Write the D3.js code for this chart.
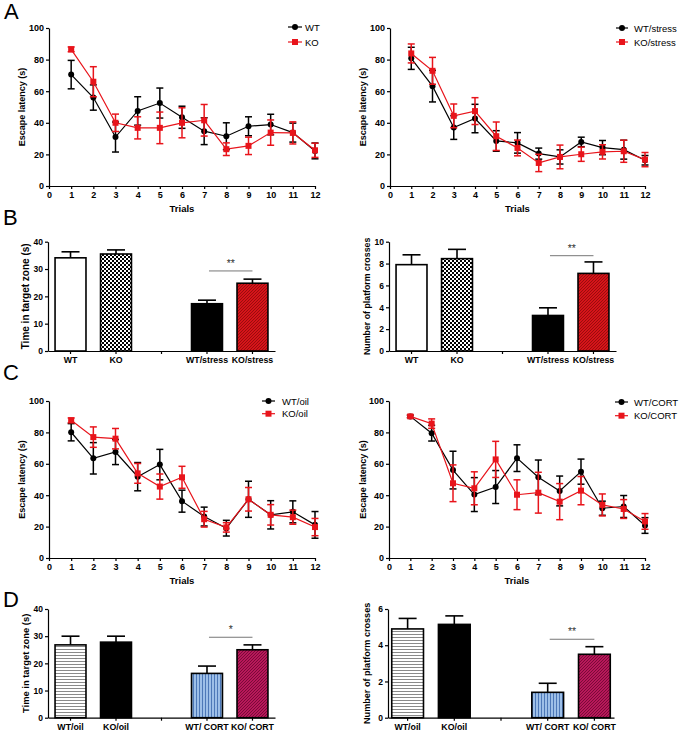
<!DOCTYPE html>
<html><head><meta charset="utf-8">
<script src="https://cdn.jsdelivr.net/npm/d3@7/dist/d3.min.js"></script>
<style>
body{margin:0;background:#fff;}
svg{display:block;font-family:"Liberation Sans",Arial,sans-serif;}
</style></head>
<body><svg id="c" width="682" height="735"></svg>
<script>
// ---------- DATA ----------
const trials = [1,2,3,4,5,6,7,8,9,10,11,12];
const trialTicks = [0,1,2,3,4,5,6,7,8,9,10,11,12];
const latencyTicks = [0,20,40,60,80,100];

// Panel A left
const wtMean = [70.5,56,31,47.5,52.5,43.5,34.7,31.5,37.8,38.9,33.8,22.2];
const wtErr  = [9,8,9.5,9,9.5,7,8.5,8.5,6,6.5,6,5];
const koMean = [86.5,66,40,36.8,36.8,40,41.6,23.3,25.4,33.8,33.6,22.6];
const koErr  = [1.5,9.5,5.5,7,10,9.5,10,4,5.5,8,7,4.5];
// Panel A right
const wtStressMean = [80.8,63.2,37,42.7,28.5,27.3,20.5,18.4,27.9,24.3,23,16.3];
const wtStressErr  = [7,10,7.5,9,6.5,6.5,3.5,4.5,3,4.5,6,3];
const koStressMean = [83.9,72.9,44.4,47.4,31.5,24.1,14.6,18.4,20.1,21.6,22,16.7];
const koStressErr  = [6,8.5,7.5,8.5,9,5,5.5,7.5,4.5,4.5,7,4.5];
// Panel C left
const wtOilMean = [80.1,63.5,67.5,51.8,59.5,36.2,26.4,19,37.4,27.5,29.4,21.1];
const wtOilErr  = [5.5,10,8,9,9.7,7,6,5,11.5,9,7,8.5];
const koOilMean = [87.7,77,76,53.9,45.5,51.4,24.7,19.5,37.4,27.5,26,19.7];
const koOilErr  = [1.5,6.5,6.5,6.3,8,7,5,3,7.5,6.5,4.5,5.5];
// Panel C right
const wtCortMean = [90.2,79.5,56,40.4,45.2,63.6,51.4,42.7,55,31.7,32.8,20.7];
const wtCortErr  = [0.8,5,12,10.8,10.5,8.5,11,9.5,8,4.5,7,5];
const koCortMean = [90.2,85.6,47.6,44.4,62.8,40.3,41.6,35.9,42.9,33.8,31.2,23.3];
const koCortErr  = [0.8,3,11.7,10.5,11.5,9.5,13,11.5,9,7,6,5];

// Panel B
const groupsB = ["WT","KO","","WT/stress","KO/stress"];
const timeB = [34.1,35.5,null,17.3,24.8];
const timeBErr = [2.2,1.5,null,1.3,1.5];
const crossB = [7.9,8.45,null,3.25,7.1];
const crossBErr = [0.9,0.85,null,0.7,1.05];
const timeTicks = [0,10,20,30,40];
const crossTicksB = [0,2,4,6,8,10];
// Panel D
const groupsD = ["WT/oil","KO/oil","","WT/ CORT","KO/ CORT"];
const timeD = [26.8,27.8,null,16.3,25];
const timeDErr = [3.2,2.2,null,2.7,1.8];
const crossD = [4.9,5.15,null,1.4,3.5];
const crossDErr = [0.58,0.47,null,0.5,0.42];
const crossTicksD = [0,2,4,6];

// ---------- DRAW ----------
const svg = d3.select("#c");
const defs = svg.append("defs");
const fmt = d3.format("d");

function pat(id, w, h, bg, draw){
  const p = defs.append("pattern").attr("id",id).attr("patternUnits","userSpaceOnUse").attr("width",w).attr("height",h);
  p.append("rect").attr("width",w).attr("height",h).attr("fill",bg);
  draw(p);
}
pat("checker",4,4,"#fff",p=>{
  p.append("rect").attr("width",2).attr("height",2).attr("fill","#000");
  p.append("rect").attr("x",2).attr("y",2).attr("width",2).attr("height",2).attr("fill","#000");
});
pat("redhatch",3,3,"#d6141a",p=>{
  p.append("path").attr("d","M0,3L3,0M-1,1L1,-1M2,4L4,2").attr("stroke","#8a0a0a").attr("stroke-width",0.8);
});
pat("hstripe",3,3,"#fff",p=>{
  p.append("rect").attr("y",1).attr("width",3).attr("height",1).attr("fill","#8a8a8a");
});
pat("vstripe",3,3,"#9dbfe8",p=>{
  p.append("rect").attr("x",1).attr("width",1).attr("height",3).attr("fill","#4d78b8");
});
pat("crimson",3,3,"#b8185a",p=>{
  p.append("path").attr("d","M0,3L3,0M-1,1L1,-1M2,4L4,2").attr("stroke","#6a0630").attr("stroke-width",0.8);
});

const bold = "bold";
function letter(t,x,y){
  svg.append("text").attr("x",x).attr("y",y).attr("font-size",22).text(t);
}
letter("A",4,19); letter("B",3,225); letter("C",3,380); letter("D",3,607);

function marker(g,s,cx,cy){
  if(s.shape==="circle") g.append("circle").attr("cx",cx).attr("cy",cy).attr("r",3).attr("fill",s.color);
  else g.append("rect").attr("x",cx-3).attr("y",cy-3).attr("width",6).attr("height",6).attr("fill",s.color);
}

function linePanel(o){
  const g = svg.append("g");
  const x = d3.scaleLinear().domain([0,12]).range(o.xr);
  const y = d3.scaleLinear().domain([0,100]).range(o.yr);
  const xa = g.append("g").attr("transform",`translate(0,${o.yr[0]})`)
    .call(d3.axisBottom(x).tickValues(trialTicks).tickFormat(fmt).tickSize(3).tickPadding(3).tickSizeOuter(0));
  const ya = g.append("g").attr("transform",`translate(${o.xr[0]},0)`)
    .call(d3.axisLeft(y).tickValues(latencyTicks).tickFormat(fmt).tickSize(3).tickPadding(2).tickSizeOuter(0));
  [xa,ya].forEach(a=>{
    a.selectAll("path,line").attr("stroke","#000").attr("stroke-width",1.2);
    a.selectAll("text").attr("font-size",9).attr("font-weight",bold).attr("fill","#000").attr("font-family","Liberation Sans, Arial, sans-serif");
  });
  g.append("text").attr("x",(o.xr[0]+o.xr[1])/2).attr("y",o.yr[0]+26).attr("text-anchor","middle")
    .attr("font-size",9.5).attr("font-weight",bold).text("Trials");
  g.append("text").attr("transform",`translate(${o.ylx},${(o.yr[0]+o.yr[1])/2}) rotate(-90)`)
    .attr("text-anchor","middle").attr("font-size",9).attr("font-weight",bold).text("Escape latency (s)");
  o.series.forEach((s,si)=>{
    const sg = g.append("g");
    const pts = trials.map((t,i)=>({t,m:s.mean[i],e:s.err[i]}));
    sg.append("path").datum(pts).attr("fill","none").attr("stroke",s.color).attr("stroke-width",1.2)
      .attr("d",d3.line().x(d=>x(d.t)).y(d=>y(d.m)));
    pts.forEach(d=>{
      const cx = x(d.t);
      sg.append("line").attr("x1",cx).attr("x2",cx).attr("y1",y(d.m-d.e)).attr("y2",y(d.m+d.e)).attr("stroke",s.color).attr("stroke-width",1.5);
      [d.m-d.e,d.m+d.e].forEach(v=>sg.append("line").attr("x1",cx-3.5).attr("x2",cx+3.5).attr("y1",y(v)).attr("y2",y(v)).attr("stroke",s.color).attr("stroke-width",1.5));
      marker(sg,s,cx,y(d.m));
    });
    const ly = o.leg.y + si*o.leg.dy;
    g.append("line").attr("x1",o.leg.x0).attr("x2",o.leg.x1).attr("y1",ly).attr("y2",ly).attr("stroke",s.color).attr("stroke-width",1.2);
    marker(g,s,(o.leg.x0+o.leg.x1)/2,ly);
    g.append("text").attr("x",o.leg.tx).attr("y",ly+3.5).attr("font-size",9.5).text(s.name);
  });
}

linePanel({xr:[49,315],yr:[186,28],ylx:25,
  leg:{x0:288,x1:302,tx:305,y:27,dy:15},
  series:[{name:"WT",mean:wtMean,err:wtErr,color:"#000",shape:"circle"},
          {name:"KO",mean:koMean,err:koErr,color:"#e8141b",shape:"square"}]});
linePanel({xr:[390,645],yr:[186,28],ylx:366,
  leg:{x0:616,x1:628,tx:634,y:28,dy:14},
  series:[{name:"WT/stress",mean:wtStressMean,err:wtStressErr,color:"#000",shape:"circle"},
          {name:"KO/stress",mean:koStressMean,err:koStressErr,color:"#e8141b",shape:"square"}]});
linePanel({xr:[49,315],yr:[558,401],ylx:25,
  leg:{x0:262,x1:275,tx:282,y:401,dy:12.7},
  series:[{name:"WT/oil",mean:wtOilMean,err:wtOilErr,color:"#000",shape:"circle"},
          {name:"KO/oil",mean:koOilMean,err:koOilErr,color:"#e8141b",shape:"square"}]});
linePanel({xr:[389,645],yr:[558,401],ylx:366,
  leg:{x0:615,x1:628,tx:634,y:402,dy:13.7},
  series:[{name:"WT/CORT",mean:wtCortMean,err:wtCortErr,color:"#000",shape:"circle"},
          {name:"KO/CORT",mean:koCortMean,err:koCortErr,color:"#e8141b",shape:"square"}]});

function barPanel(o){
  const g = svg.append("g");
  const x = d3.scaleBand().domain(o.groups).range(o.xr).paddingInner(0.32).paddingOuter(o.po);
  const y = d3.scaleLinear().domain([0,o.max]).range(o.yr);
  o.groups.forEach((k,i)=>{
    if(o.vals[i]==null) return;
    const bx = x(k), bw = x.bandwidth(), cx = bx+bw/2;
    const top = y(o.vals[i] + o.errs[i]);
    g.append("line").attr("x1",cx).attr("x2",cx).attr("y1",y(o.vals[i])).attr("y2",top).attr("stroke","#000").attr("stroke-width",1.6);
    g.append("line").attr("x1",cx-9).attr("x2",cx+9).attr("y1",top).attr("y2",top).attr("stroke","#000").attr("stroke-width",1.6);
    g.append("rect").attr("x",bx).attr("y",y(o.vals[i])).attr("width",bw).attr("height",y(0)-y(o.vals[i]))
      .attr("fill",o.fills[i]).attr("stroke","#000").attr("stroke-width",1.6);
  });
  const xa = g.append("g").attr("transform",`translate(0,${o.yr[0]})`)
    .call(d3.axisBottom(x).tickSize(3).tickPadding(3).tickSizeOuter(0));
  const ya = g.append("g").attr("transform",`translate(${o.xr[0]},0)`)
    .call(d3.axisLeft(y).tickValues(o.ticks).tickFormat(fmt).tickSize(3).tickPadding(2).tickSizeOuter(0));
  [xa,ya].forEach(a=>{
    a.selectAll("path,line").attr("stroke","#000").attr("stroke-width",1.2);
    a.selectAll("text").attr("font-weight",bold).attr("fill","#000").attr("font-family","Liberation Sans, Arial, sans-serif");
  });
  xa.selectAll("text").attr("font-size",8.8);
  ya.selectAll("text").attr("font-size",8.5);
  g.append("text").attr("transform",`translate(${o.ylx},${(o.yr[0]+o.yr[1])/2}) rotate(-90)`)
    .attr("text-anchor","middle").attr("font-size",o.ylfs).attr("font-weight",bold).text(o.ylabel);
  const c1 = x(o.groups[3])+x.bandwidth()/2+2, c2 = x(o.groups[4])+x.bandwidth()/2;
  const sy = y(o.sig);
  g.append("line").attr("x1",c1).attr("x2",c2).attr("y1",sy).attr("y2",sy).attr("stroke","#777").attr("stroke-width",1);
  g.append("text").attr("x",(c1+c2)/2).attr("y",sy-4).attr("text-anchor","middle").attr("font-size",10.5).attr("fill","#333").text(o.star);
}
barPanel({groups:groupsB,vals:timeB,errs:timeBErr,max:40,ticks:timeTicks,xr:[48,275],po:0.155,yr:[351,241.7],
  fills:["#fff","url(#checker)",null,"#000","url(#redhatch)"],ylabel:"Time in target zone (s)",ylx:29,ylfs:10,sig:29.3,star:"**"});
barPanel({groups:groupsB,vals:crossB,errs:crossBErr,max:10,ticks:crossTicksB,xr:[389,616],po:0.155,yr:[351,241.7],
  fills:["#fff","url(#checker)",null,"#000","url(#redhatch)"],ylabel:"Number of platform crosses",ylx:369.5,ylfs:8.8,sig:8.72,star:"**"});
barPanel({groups:groupsD,vals:timeD,errs:timeDErr,max:40,ticks:timeTicks,xr:[48,275],po:0.155,yr:[717.7,609],
  fills:["url(#hstripe)","#000",null,"url(#vstripe)","url(#crimson)"],ylabel:"Time in target zone (s)",ylx:29,ylfs:9.4,sig:29.6,star:"*"});
barPanel({groups:groupsD,vals:crossD,errs:crossDErr,max:6,ticks:crossTicksD,xr:[388,614],po:0.08,yr:[717.7,609],
  fills:["url(#hstripe)","#000",null,"url(#vstripe)","url(#crimson)"],ylabel:"Number of platform crosses",ylx:369.5,ylfs:9.1,sig:4.33,star:"**"});
</script>
</body></html>
